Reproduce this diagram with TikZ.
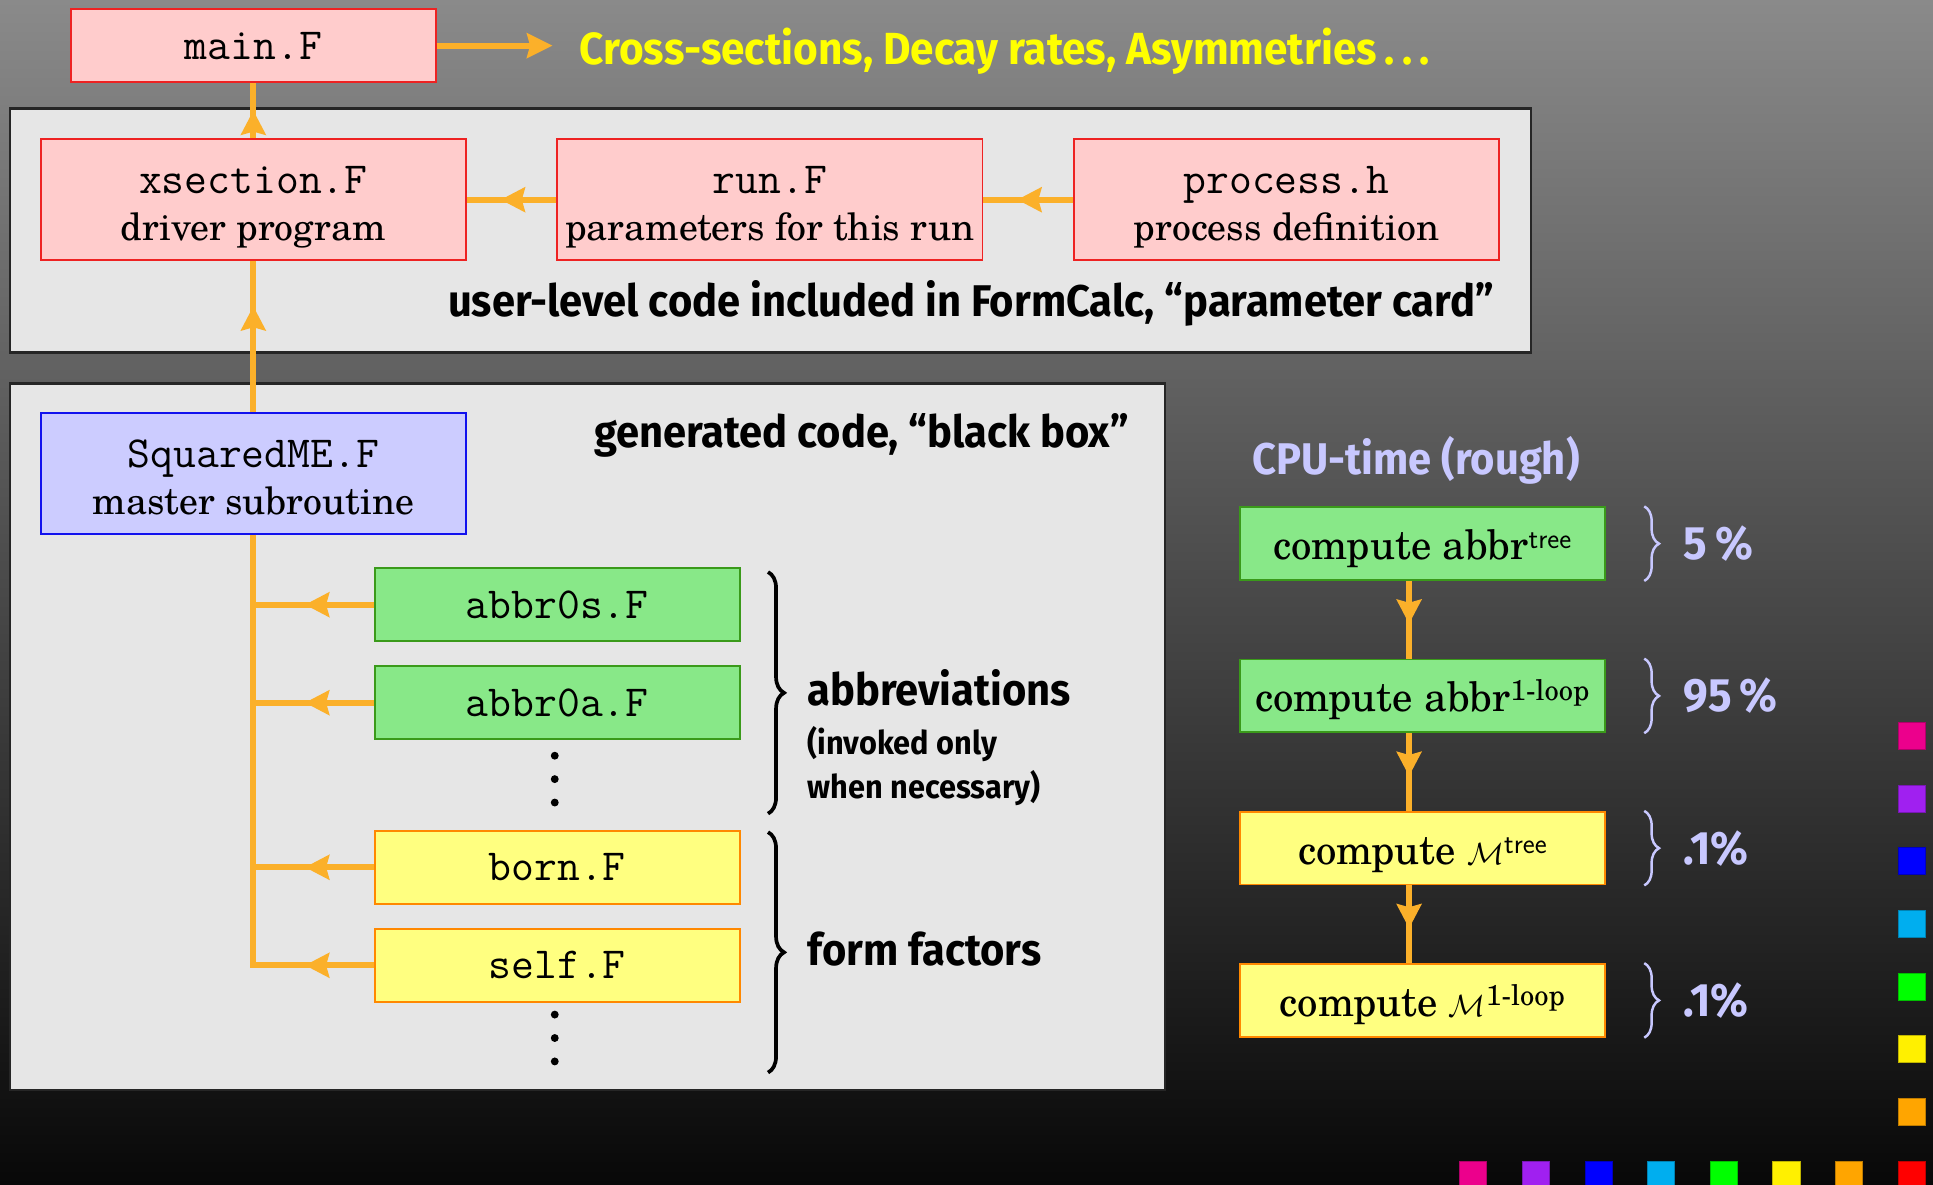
\documentclass[tikz,border=0pt]{standalone}
\usepackage{fontspec}
\usepackage{tikz}
\usetikzlibrary{arrows.meta,decorations.markings,decorations.pathreplacing,positioning}

\setmainfont{texgyreschola-regular.otf}
\newfontfamily\labelsf[FakeStretch=0.94]{Fira Sans}

\definecolor{bgtop}{HTML}{8A8A8A}
\definecolor{bgbot}{HTML}{080808}
\definecolor{panelgray}{HTML}{E6E6E6}
\definecolor{boxpink}{HTML}{FFCCCC}
\definecolor{boxred}{HTML}{EE2222}
\definecolor{boxlav}{HTML}{CCCCFF}
\definecolor{boxblue}{HTML}{1111EE}
\definecolor{boxgreen}{HTML}{88E888}
\definecolor{boxgreenline}{HTML}{3A9A1A}
\definecolor{boxyellow}{HTML}{FFFF80}
\definecolor{boxorange}{HTML}{FF8800}
\definecolor{flowcol}{HTML}{FBB02A}
\definecolor{lavtext}{HTML}{C8C8FF}
\definecolor{resyellow}{HTML}{FFFF00}
\definecolor{sqmag}{HTML}{EC008C}
\definecolor{sqpur}{HTML}{A020F0}
\definecolor{sqblu}{HTML}{0000FF}
\definecolor{sqcya}{HTML}{00AEEF}
\definecolor{sqgrn}{HTML}{00FF00}
\definecolor{sqyel}{HTML}{FFF000}
\definecolor{sqora}{HTML}{FFA500}
\definecolor{sqred}{HTML}{FF0000}

\newcommand{\filelabel}[2]{{\fontsize{36}{38}\selectfont\ttfamily\rule{0pt}{36pt}#1}\\#2\rule[-8pt]{0pt}{8pt}}
\newcommand{\amp}{{\fontsize{37}{37}\selectfont$\mathcal{M}$}}

\tikzset{
    file/.style={draw, line width=1.5pt, inner sep=0pt, align=center,
        minimum width=345pt, minimum height=98pt, font=\fontsize{30.6}{38}\selectfont},
    smallfile/.style={file, minimum width=296pt, minimum height=59pt,
        font=\fontsize{36}{40}\selectfont\ttfamily},
    cpubox/.style={file, minimum width=296pt, minimum height=59pt,
        text height=32pt, text depth=6pt, font=\fontsize{33}{36}\selectfont},
    usercode/.style={fill=boxpink, draw=boxred},
    master/.style={fill=boxlav, draw=boxblue},
    abbr/.style={fill=boxgreen, draw=boxgreenline},
    formfac/.style={fill=boxyellow, draw=boxorange},
    panel/.style={fill=panelgray, draw=black!85, line width=2pt},
    flow/.style={draw, color=flowcol, line width=5pt},
    tip/.style={-{Stealth[length=21pt, width=21pt, inset=3pt, line width=0pt 0]}},
    midarrow/.style={flow, postaction={decorate}, decoration={markings,
        mark=at position #1 with {\arrow{Stealth[length=20pt, width=21pt, inset=3pt, line width=0pt 0]}}}},
    midarrow/.default=0.55,
    note/.style={inner sep=0pt, font=\labelsf\bfseries\fontsize{36}{40}\selectfont},
    smallnote/.style={inner sep=0pt, font=\labelsf\bfseries\fontsize{26.5}{30}\selectfont},
    pct/.style={inner sep=0pt, text=lavtext, font=\labelsf\bfseries\fontsize{38}{40}\selectfont},
    curly/.style={decorate, decoration={brace, amplitude=13pt}, line width=3pt},
}

\begin{document}
\begin{tikzpicture}[x=1pt, y=-1pt]
    \shade[top color=bgtop, bottom color=bgbot] (0,0) rectangle (1568,961);
    \useasboundingbox (0,0) rectangle (1568,961);

    \draw[panel] (8,88) rectangle (1242,286);
    \draw[panel] (8,311) rectangle (945,884);

    \node[smallfile, usercode] (main) at (205.5,37) {main.F};
    \coordinate (out) at (448,37);
    \node[note, text=resyellow, anchor=base west, font=\labelsf\bfseries\fontsize{36.5}{40}\selectfont] (results) at (470,52) {Cross-sections, Decay rates, Asymmetries\,.\,.\,.};

    \node[file, usercode] (xsection) at (205.5,162) {\filelabel{xsection.F}{driver program}};
    \node[file, usercode, right=72.5pt of xsection] (run) {\filelabel{run.F}{parameters for this run}};
    \node[file, usercode, right=72.5pt of run] (process) {\filelabel{process.h}{process definition}};
    \node[note, anchor=base east] (userlevel) at (1212,257) {user-level code included in FormCalc, “parameter card”};

    \node[file, master] (sqme) at (205.5,384) {\filelabel{SquaredME.F}{master subroutine}};
    \node[note, anchor=base east] (generated) at (916,363) {generated code, “black box”};

    \node[smallfile, abbr] (abbrs) at (452,490.5) {abbr0s.F};
    \node[smallfile, abbr, below=19pt of abbrs] (abbra) {abbr0a.F};
    \node[smallfile, formfac, below=73pt of abbra] (born) {born.F};
    \node[smallfile, formfac, below=19pt of born] (self) {self.F};
    \foreach \y in {613,632,651,823,842,861}
        \fill (450,\y) circle (3.2pt);

    \draw[curly] (623,464) -- (623,660);
    \draw[curly] (623,675) -- (623,870);
    \node[note, anchor=base west] (abbrlabel) at (655,572) {abbreviations};
    \node[smallnote, anchor=base west] (invoked) at (655,612) {(invoked only};
    \node[smallnote, anchor=base west] (necessary) at (655,648) {when necessary)};
    \node[note, anchor=base west] (fflabel) at (655,783) {form factors};

    \draw[flow, tip] (main.east) -- (out);
    \draw[midarrow=0.5] (xsection) -- (main);
    \draw[midarrow=0.62] (process) -- (run);
    \draw[midarrow=0.62] (run) -- (xsection);
    \draw[midarrow=0.7] (sqme) -- (xsection);
    \draw[flow] (sqme.south) |- (self.west);
    \foreach \f in {abbrs, abbra, born, self}
        \draw[midarrow=0.57] (\f.west) -- (\f.west -| sqme.south);

    \node[note, text=lavtext, anchor=base west] (cputitle) at (1016,385) {CPU-time (rough)};
    \node[cpubox, abbr] (c1) at (1154,441) {compute abbr\textsuperscript{\sffamily tree}};
    \node[cpubox, abbr, below=63pt of c1] (c2) {compute abbr\textsuperscript{1-loop}};
    \node[cpubox, formfac, below=63pt of c2] (c3) {compute \amp\textsuperscript{\sffamily tree}};
    \node[cpubox, formfac, below=63pt of c3] (c4) {compute \amp\textsuperscript{1-loop}};
    \coordinate (cpu) at (1143,0);
    \draw[midarrow=0.55] (c1.south -| cpu) -- (c2.north -| cpu);
    \draw[midarrow=0.55] (c2.south -| cpu) -- (c3.north -| cpu);
    \draw[midarrow=0.55] (c3.south -| cpu) -- (c4.north -| cpu);
    \foreach \c/\p in {c1/{5\,\%}, c2/{95\,\%}, c3/{.1\%}, c4/{.1\%}} {
        \draw[curly, lavtext, line width=2pt, decoration={brace, amplitude=12pt}]
            ([xshift=31pt]\c.north east) -- ([xshift=31pt]\c.south east);
        \node[pct, anchor=west] (pct\c) at ([xshift=63pt]\c.east) {\p};
    }

    \foreach \col [count=\i from 0] in {sqmag, sqpur, sqblu, sqcya, sqgrn, sqyel, sqora} {
        \filldraw[fill=\col, draw=\col!75!black, line width=0.6pt] (1540,586+50.8*\i) rectangle +(22,22);
        \filldraw[fill=\col, draw=\col!75!black, line width=0.6pt] (1184+50.8*\i,942) rectangle +(22,22);
    }
    \filldraw[fill=sqred, draw=sqred!75!black, line width=0.6pt] (1540,942) rectangle +(22,22);
\end{tikzpicture}
\end{document}
